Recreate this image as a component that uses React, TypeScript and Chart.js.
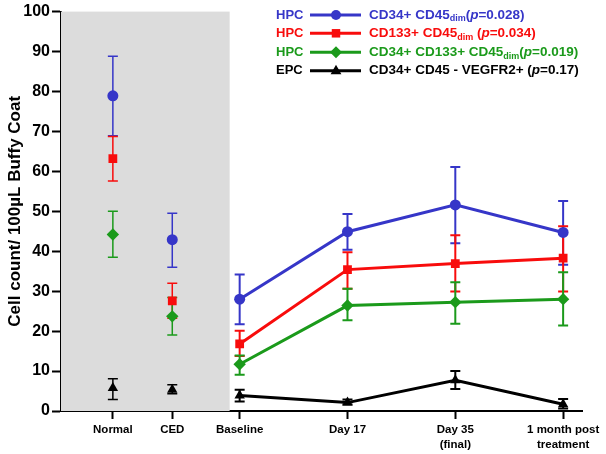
import React, { useEffect, useRef } from 'react';
import { Chart, registerables } from 'chart.js';

Chart.register(...registerables);

// ---- data ----
const categories: (string | string[])[] = ['Normal', 'CED', 'Baseline', 'Day 17', ['Day 35', '(final)'], ['1 month post', 'treatment']];
const categoryPositions = [-1.176, -0.625, 0, 1, 2, 3];
const xMin = -1.657;
const xMax = 3.175;
const shadeEnd = -0.093;

const blueMean = [78.9, 42.9, 28.0, 44.9, 51.6, 44.7];
const blueLow = [68.9, 36.0, 21.7, 40.4, 42.0, 36.6];
const blueHigh = [88.8, 49.5, 34.2, 49.35, 61.1, 52.6];

const redMean = [63.2, 27.6, 16.8, 35.4, 36.9, 38.25];
const redLow = [57.6, 23.2, 13.75, 30.6, 29.9, 29.9];
const redHigh = [68.7, 32.0, 20.1, 39.75, 44.0, 46.25];

const greenMean = [44.2, 23.7, 11.7, 26.4, 27.25, 28.0];
const greenLow = [38.5, 19.0, 9.1, 22.7, 21.85, 21.4];
const greenHigh = [50.0, 28.4, 13.9, 30.6, 32.25, 34.75];

const blackMean = [5.75, 5.3, 3.9, 2.1, 7.7, 1.7];
const blackLow = [2.9, 4.3, 2.4, 1.6, 5.5, 0.6];
const blackHigh = [8.1, 6.6, 5.3, 2.9, 10.0, 3.0];

const yTicks = [0, 10, 20, 30, 40, 50, 60, 70, 80, 90, 100];
const yTitle = 'Cell count/ 100\u00B5L Buffy Coat';

const BLUE = '#3636c8';
const RED = '#f80c0c';
const GREEN = '#1b9a1b';
const BLACK = '#000000';
const FONT = '"Liberation Sans", Arial, sans-serif';

type LegendPart = { t: string; sub?: boolean; italic?: boolean };
const legendRows: { group: string; color: string; style: string; radius: number; parts: LegendPart[] }[] = [
  { group: 'HPC', color: BLUE, style: 'circle', radius: 5, parts: [{ t: 'CD34+ CD45' }, { t: 'dim', sub: true }, { t: '(' }, { t: 'p', italic: true }, { t: '=0.028)' }] },
  { group: 'HPC', color: RED, style: 'rect', radius: 6, parts: [{ t: 'CD133+ CD45' }, { t: 'dim', sub: true }, { t: ' (' }, { t: 'p', italic: true }, { t: '=0.034)' }] },
  { group: 'HPC', color: GREEN, style: 'rectRot', radius: 6, parts: [{ t: 'CD34+ CD133+ CD45' }, { t: 'dim', sub: true }, { t: '(' }, { t: 'p', italic: true }, { t: '=0.019)' }] },
  { group: 'EPC', color: BLACK, style: 'triangle', radius: 6, parts: [{ t: 'CD34+ CD45 - VEGFR2+ (' }, { t: 'p', italic: true }, { t: '=0.17)' }] },
];

const series = [
  { name: 'blue', color: BLUE, style: 'circle', radius: 5.5, mean: blueMean, low: blueLow, high: blueHigh },
  { name: 'red', color: RED, style: 'rect', radius: 6.2, mean: redMean, low: redLow, high: redHigh },
  { name: 'green', color: GREEN, style: 'rectRot', radius: 6.2, mean: greenMean, low: greenLow, high: greenHigh },
  { name: 'black', color: BLACK, style: 'triangle', radius: 6, mean: blackMean, low: blackLow, high: blackHigh },
];

const shadePlugin = {
  id: 'shade',
  beforeDatasetsDraw(chart: any) {
    const { ctx, chartArea, scales } = chart;
    const xs = scales.x;
    const ys = scales.y;
    ctx.save();
    ctx.fillStyle = '#dcdcdc';
    const x1 = xs.getPixelForValue(shadeEnd);
    const top = ys.getPixelForValue(100);
    ctx.fillRect(chartArea.left, top, x1 - chartArea.left, chartArea.bottom - top);
    // error bars
    series.forEach((s) => {
      ctx.strokeStyle = s.color;
      s.mean.forEach((_, i) => {
        const x = xs.getPixelForValue(categoryPositions[i]);
        const yl = ys.getPixelForValue(s.low[i]);
        const yh = ys.getPixelForValue(s.high[i]);
        ctx.lineWidth = i < 2 ? 1.5 : 2;
        ctx.beginPath();
        ctx.moveTo(x, yl);
        ctx.lineTo(x, yh);
        ctx.moveTo(x - 5, yl);
        ctx.lineTo(x + 5, yl);
        ctx.moveTo(x - 5, yh);
        ctx.lineTo(x + 5, yh);
        ctx.stroke();
      });
    });
    ctx.restore();
  },
};

function drawMarker(ctx: CanvasRenderingContext2D, style: string, x: number, y: number, r: number, color: string) {
  ctx.save();
  ctx.fillStyle = color;
  ctx.beginPath();
  if (style === 'circle') {
    ctx.arc(x, y, r, 0, Math.PI * 2);
  } else if (style === 'rect') {
    const s = r * Math.SQRT1_2;
    ctx.rect(x - s, y - s, 2 * s, 2 * s);
  } else if (style === 'rectRot') {
    ctx.moveTo(x - r, y);
    ctx.lineTo(x, y - r);
    ctx.lineTo(x + r, y);
    ctx.lineTo(x, y + r);
    ctx.closePath();
  } else {
    ctx.moveTo(x, y - r);
    ctx.lineTo(x + r * 0.9, y + r * 0.6);
    ctx.lineTo(x - r * 0.9, y + r * 0.6);
    ctx.closePath();
  }
  ctx.fill();
  ctx.restore();
}

const legendPlugin = {
  id: 'customLegend',
  afterDraw(chart: any) {
    const { ctx } = chart;
    const rowY = [15, 33.3, 52.3, 70.7];
    ctx.save();
    legendRows.forEach((row, r) => {
      const y = rowY[r];
      ctx.fillStyle = row.color;
      ctx.textBaseline = 'middle';
      ctx.textAlign = 'left';
      ctx.font = `bold 13px ${FONT}`;
      ctx.fillText(row.group, 276, y);
      ctx.strokeStyle = row.color;
      ctx.lineWidth = 3;
      ctx.beginPath();
      ctx.moveTo(310, y);
      ctx.lineTo(361, y);
      ctx.stroke();
      drawMarker(ctx, row.style, 336, y, row.radius, row.color);
      let x = 369;
      row.parts.forEach((p) => {
        ctx.fillStyle = row.color;
        if (p.sub) {
          ctx.font = `bold 9px ${FONT}`;
          ctx.fillText(p.t, x, y + 4);
        } else if (p.italic) {
          ctx.font = `italic bold 13.5px ${FONT}`;
          ctx.fillText(p.t, x, y);
        } else {
          ctx.font = `bold 13.5px ${FONT}`;
          ctx.fillText(p.t, x, y);
        }
        x += ctx.measureText(p.t).width;
      });
    });
    ctx.restore();
  },
};

export default function App() {
  const ref = useRef<HTMLCanvasElement>(null);
  useEffect(() => {
    if (!ref.current) return;
    const datasets = series.map((s, k) => ({
      label: s.name,
      data: s.mean.map((v, i) => ({ x: categoryPositions[i], y: v })),
      borderColor: s.color,
      backgroundColor: s.color,
      pointBackgroundColor: s.color,
      pointBorderColor: s.color,
      pointBorderWidth: 0,
      pointStyle: s.style as any,
      pointRadius: s.radius,
      borderWidth: 3,
      showLine: true,
      order: k,
      segment: {
        borderColor: (c: any) => (c.p0DataIndex < 2 ? 'rgba(0,0,0,0)' : undefined),
      },
    }));
    const chart = new Chart(ref.current, {
      type: 'scatter',
      data: { datasets },
      options: {
        responsive: false,
        animation: false,
        events: [],
        layout: { padding: { left: 0, top: 11, right: 24, bottom: 0 } },
        plugins: { legend: { display: false }, tooltip: { enabled: false } },
        scales: {
          x: {
            type: 'linear',
            min: xMin,
            max: xMax,
            afterFit: (s: any) => { s.height = 43; },
            afterBuildTicks: (s: any) => { s.ticks = categoryPositions.map((v) => ({ value: v })); },
            border: { display: true, color: '#000', width: 2 },
            grid: { display: true, drawOnChartArea: false, drawTicks: true, tickLength: 8, tickWidth: 2, tickColor: '#000' },
            ticks: {
              autoSkip: false,
              maxRotation: 0,
              padding: 3,
              color: '#000',
              font: { family: FONT, size: 11.5, weight: 'bold', lineHeight: 1.3 },
              callback: (_v: any, i: number) => categories[i],
            },
          },
          y: {
            type: 'linear',
            min: 0,
            max: 100,
            afterFit: (s: any) => { s.width = 61; },
            afterBuildTicks: (s: any) => { s.ticks = yTicks.map((v) => ({ value: v })); },
            border: { display: true, color: '#000', width: 2 },
            grid: { display: true, drawOnChartArea: false, drawTicks: true, tickLength: 9, tickWidth: 2, tickColor: '#000' },
            ticks: {
              padding: 2,
              color: '#000',
              font: { family: FONT, size: 16, weight: 'bold' },
            },
            title: {
              display: true,
              text: yTitle,
              color: '#000',
              padding: { top: 5, bottom: 0 },
              font: { family: FONT, size: 17, weight: 'bold' },
            },
          },
        },
      },
      plugins: [shadePlugin, legendPlugin],
    });
    return () => chart.destroy();
  }, []);
  return (
    <div style={{ position: 'fixed', left: 0, top: 0, width: 606, height: 454, background: '#fff' }}>
      <canvas ref={ref} width={606} height={454} />
    </div>
  );
}
